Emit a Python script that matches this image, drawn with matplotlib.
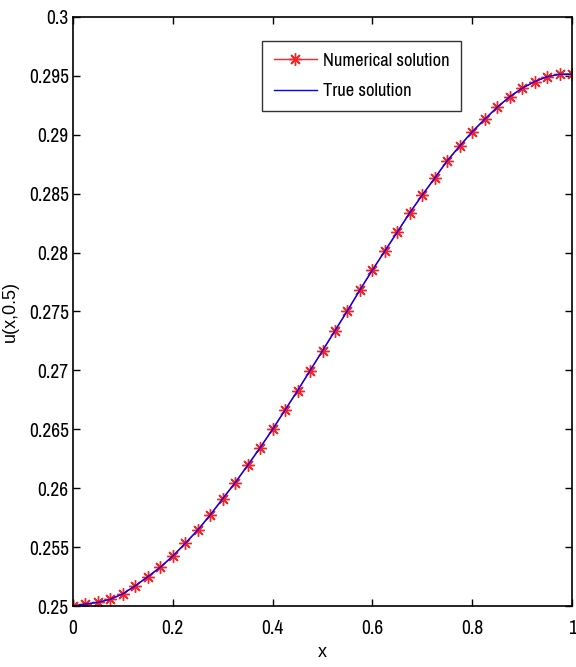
import matplotlib
matplotlib.use("Agg")
import matplotlib.pyplot as plt
from matplotlib import font_manager

x_vals = [0.0, 0.025, 0.05, 0.075, 0.1, 0.125, 0.15, 0.175, 0.2, 0.225,
          0.25, 0.275, 0.3, 0.325, 0.35, 0.375, 0.4, 0.425, 0.45, 0.475,
          0.5, 0.525, 0.55, 0.575, 0.6, 0.625, 0.65, 0.675, 0.7, 0.725,
          0.75, 0.775, 0.8, 0.825, 0.85, 0.875, 0.9, 0.925, 0.95, 0.975, 1.0]
numerical = [0.25000, 0.25017, 0.25031, 0.25057, 0.25104, 0.25172, 0.25249, 0.25329,
             0.25424, 0.25532, 0.25645, 0.25773, 0.25911, 0.26047, 0.26194, 0.26344,
             0.26500, 0.26664, 0.26828, 0.26998, 0.27167, 0.27337, 0.27507, 0.27683,
             0.27852, 0.28014, 0.28175, 0.28339, 0.28489, 0.28633, 0.28780, 0.28905,
             0.29026, 0.29132, 0.29233, 0.29323, 0.29395, 0.29451, 0.29493, 0.29514, 0.29514]
true_sol = list(numerical)

xticks = [0, 0.2, 0.4, 0.6, 0.8, 1]
xtick_labels = ["0", "0.2", "0.4", "0.6", "0.8", "1"]
yticks = [0.25, 0.255, 0.26, 0.265, 0.27, 0.275, 0.28, 0.285, 0.29, 0.295, 0.3]
ytick_labels = ["0.25", "0.255", "0.26", "0.265", "0.27", "0.275", "0.28",
                "0.285", "0.29", "0.295", "0.3"]

# find a condensed / narrow sans font if any is installed
narrow_fp = None
for f in font_manager.fontManager.ttflist:
    n = f.name.lower()
    if ("narrow" in n or "condensed" in n) and "bold" not in f.fname.lower() \
            and f.style == "normal" and "italic" not in f.fname.lower():
        narrow_fp = f
        break
if narrow_fp is not None:
    tick_font = font_manager.FontProperties(fname=narrow_fp.fname, size=14)
    leg_font = font_manager.FontProperties(fname=narrow_fp.fname, size=13.3)
else:
    tick_font = font_manager.FontProperties(family="Liberation Sans", size=12)
    leg_font = font_manager.FontProperties(family="Liberation Sans", size=12)

fig = plt.figure(figsize=(5.76, 6.67), dpi=100)
ax = fig.add_axes([73/576, 1-606/667, (572-73)/576, (606-17)/667])

ax.plot(x_vals, numerical, color="#ff2020", marker=(8, 2, 0), markersize=9,
        markeredgewidth=1.0, linewidth=1.0, label="Numerical solution")
ax.plot(x_vals, true_sol, color="#0000ff", linewidth=1.0, label="True solution")

ax.set_xlim(0, 1)
ax.set_ylim(0.25, 0.3)
ax.set_xticks(xticks)
ax.set_xticklabels(xtick_labels, fontproperties=tick_font)
ax.set_yticks(yticks)
ax.set_yticklabels(ytick_labels, fontproperties=tick_font)
ax.tick_params(direction="in", top=True, right=True, length=5, width=1)
ax.tick_params(axis="x", pad=9)
ax.tick_params(axis="y", pad=3)
for s in ax.spines.values():
    s.set_linewidth(1.2)

ax.set_xlabel("x", family="Liberation Sans", fontsize=13)
ax.set_ylabel("u(x,0.5)", family="Liberation Sans", fontsize=13)
ax.xaxis.set_label_coords(0.5, -0.065)
ax.yaxis.set_label_coords(-0.108, 0.5)

leg = ax.legend(loc="upper left", bbox_to_anchor=(0.379, 0.959),
                prop=leg_font, frameon=True, fancybox=False,
                edgecolor="black", handlelength=2.35, borderpad=0.62,
                labelspacing=0.8, handletextpad=0.3, borderaxespad=0)
leg.get_frame().set_linewidth(1.0)

fig.savefig("out.png", dpi=100)
